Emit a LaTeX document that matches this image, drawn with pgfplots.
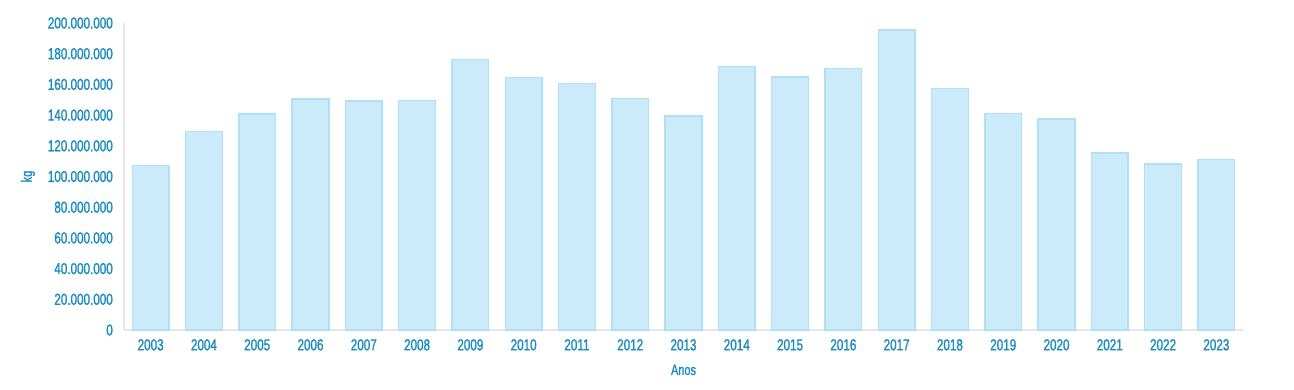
\documentclass[border=0pt]{standalone}
\usepackage{fontspec}
\setmainfont[FakeStretch=0.73, FakeBold=1.2]{Liberation Sans}
\usepackage{pgfplots}
\pgfplotsset{compat=1.18}
\definecolor{txt}{HTML}{1A8BBF}
\definecolor{barfill}{HTML}{CCEBFA}
\definecolor{baredge}{HTML}{B0DFF7}
\definecolor{axgray}{HTML}{E6E6E6}
\begin{document}
\begin{tikzpicture}[x=1pt,y=1pt]
\path[use as bounding box] (0,0) rectangle (1294,389);
\begin{axis}[
  at={(124pt,59pt)}, anchor=south west,
  scale only axis, width=1119pt, height=307pt,
  xmin=-0.5, xmax=20.5, ymin=0, ymax=200000000,
  axis x line*=bottom, axis y line*=left,
  axis line style={axgray, line width=1.2pt, -},
  major tick length=0pt,
  xtick={0,...,20},
  xticklabels={2003,2004,2005,2006,2007,2008,2009,2010,2011,2012,2013,2014,2015,2016,2017,2018,2019,2020,2021,2022,2023},
  ytick={0,20000000,40000000,60000000,80000000,100000000,120000000,140000000,160000000,180000000,200000000},
  scaled y ticks=false,
  /pgf/number format/.cd, fixed, 1000 sep={.}, assume math mode=true, /pgfplots/.cd,
  ticklabel style={font=\fontsize{16}{16}\selectfont, text=txt, inner sep=0pt},
  yticklabel style={anchor=east, xshift=-11pt},
  xticklabel style={anchor=north, yshift=-9pt},
  xlabel={Anos}, ylabel={kg},
  label style={font=\fontsize{15}{15}\selectfont, text=txt},
  xlabel style={at={(axis description cs:0.5,-0.130)}, anchor=center},
  ylabel style={at={(axis description cs:-0.0858,0.5)}, anchor=center},
  clip=false,
]
\addplot[ybar, bar width=0.69, fill=barfill, draw=baredge, line width=1.5pt] coordinates {
(0,107100000) (1,129300000) (2,140800000) (3,150500000) (4,149300000)
(5,149500000) (6,176100000) (7,164500000) (8,160700000) (9,150800000)
(10,139500000) (11,171800000) (12,164800000) (13,170500000) (14,195300000)
(15,157400000) (16,141000000) (17,137600000) (18,115200000) (19,108200000)
(20,111200000)};
\end{axis}
\end{tikzpicture}
\end{document}
